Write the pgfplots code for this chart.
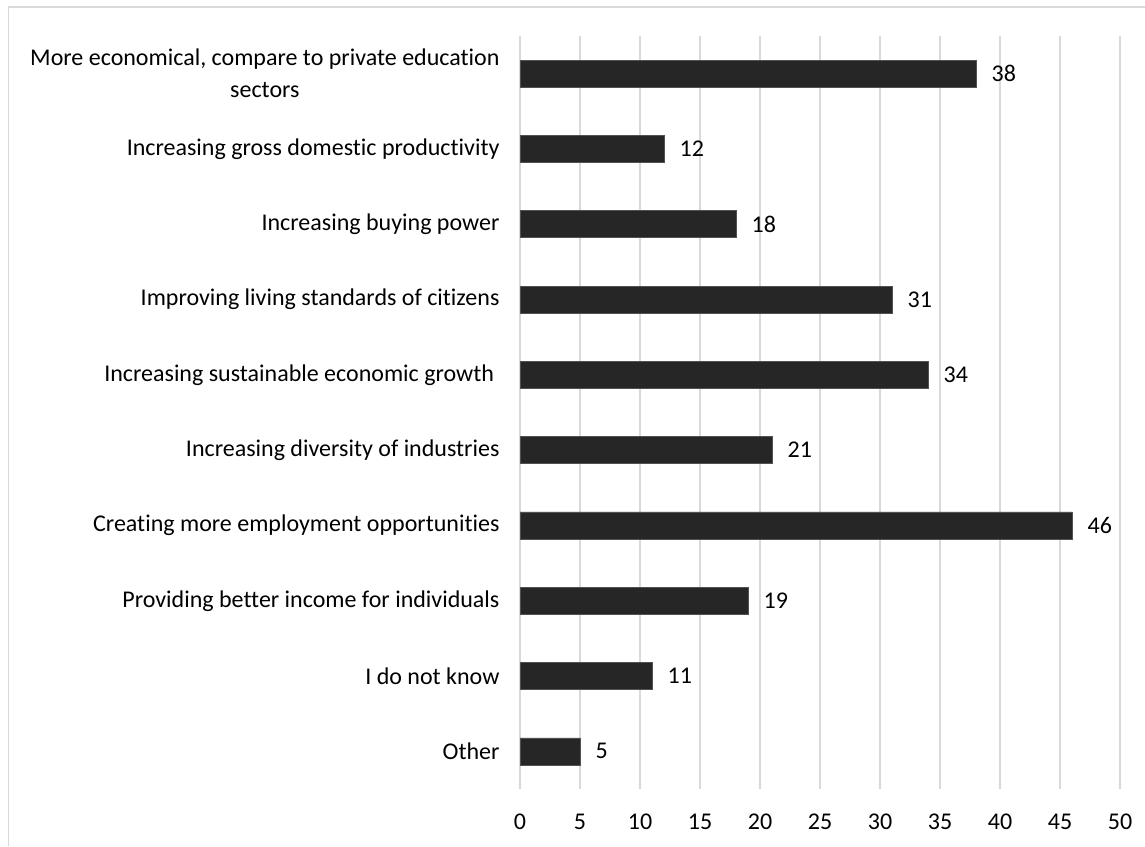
\documentclass[border=0pt]{standalone}
\usepackage{pgfplots}
\pgfplotsset{compat=1.18}
\usepackage{fontspec}
\setmainfont{Carlito}[Ligatures={NoCommon},Numbers={Lining}]
\definecolor{barc}{HTML}{262626}
\definecolor{gridc}{HTML}{D9D9D9}
\begin{document}
\begin{tikzpicture}[x=1pt,y=1pt]
\path[use as bounding box] (0,0) rectangle (1145,846);
\draw[gridc, line width=1.5pt] (8.5,0) -- (8.5,839) -- (1145,839);
\begin{axis}[
  at={(520pt,57pt)}, anchor=south west,
  scale only axis, width=600pt, height=753pt,
  xbar, bar width=27pt,
  xmin=0, xmax=50, ymin=-0.5, ymax=9.5,
  xtick={0,5,...,50},
  ytick={0,...,9},
  yticklabels={Other, I do not know, Providing better income for individuals, Creating more employment opportunities, Increasing diversity of industries, Increasing sustainable economic growth\ , Improving living standards of citizens, Increasing buying power, Increasing gross domestic productivity, {More economical, compare to private education\\sectors}},
  yticklabel style={align=center, font=\fontsize{24}{32}\selectfont, xshift=-17pt},
  xticklabel style={font=\fontsize{24}{29}\selectfont, anchor=north, text height=17pt, text depth=5pt, yshift=-20pt},
  /pgf/number format/assume math mode=true,
  axis line style={draw=none},
  major tick length=0pt,
  xmajorgrids, grid style={gridc, line width=1.5pt},
  nodes near coords,
  nodes near coords style={anchor=west, font=\fontsize{24}{29}\selectfont, xshift=12pt, text=black},
  clip=false,
]
\addplot[fill=barc, draw=barc!80!white, line width=0.6pt] coordinates {
(5,0) (11,1) (19,2) (46,3) (21,4) (34,5) (31,6) (18,7) (12,8) (38,9)
};
\end{axis}
\end{tikzpicture}
\end{document}
